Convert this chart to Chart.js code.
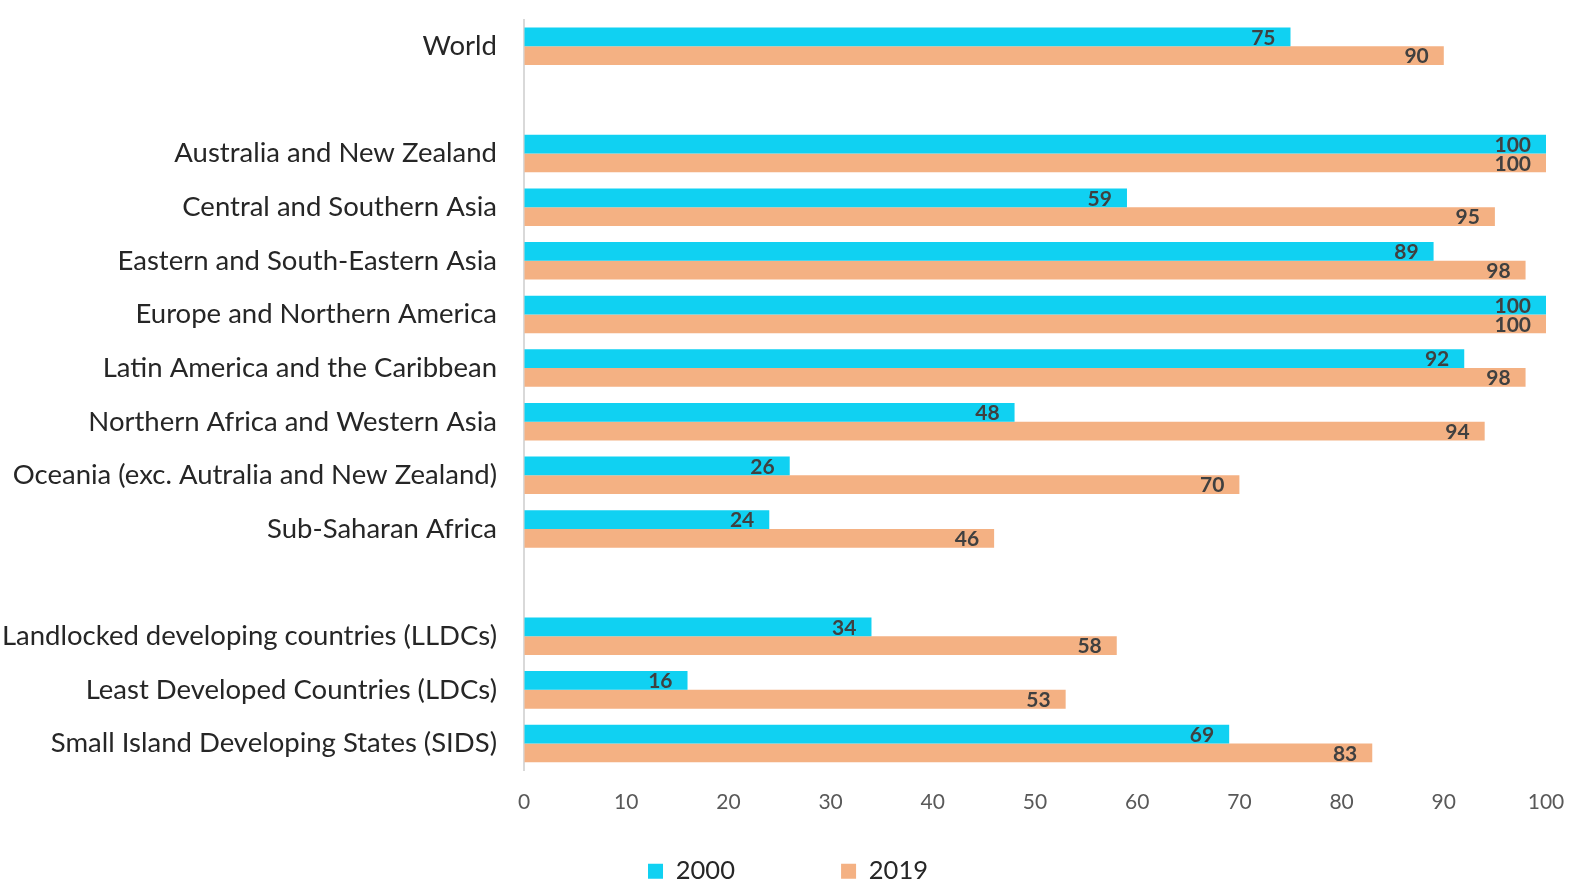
<!DOCTYPE html>
<html>
<head>
<meta charset="utf-8">
<script src="https://cdn.jsdelivr.net/npm/chart.js@4"></script>
<style>
  body { margin: 0; background: #fff; }
  #wrap { width: 1576px; height: 886px; position: relative; }
</style>
</head>
<body>
<div id="wrap"><canvas id="barChart"></canvas></div>
<script>
// Regions (blank strings are the spacer rows between groups)
const regions = [
    'World',
    '',
    'Australia and New Zealand',
    'Central and Southern Asia',
    'Eastern and South-Eastern Asia',
    'Europe and Northern America',
    'Latin America and the Caribbean',
    'Northern Africa and Western Asia',
    'Oceania (exc. Autralia and New Zealand)',
    'Sub-Saharan Africa',
    '',
    'Landlocked developing countries (LLDCs)',
    'Least Developed Countries (LDCs)',
    'Small Island Developing States (SIDS)'
];

const values2000 = [75, null, 100, 59, 89, 100, 92, 48, 26, 24, null, 34, 16, 69];
const values2019 = [90, null, 100, 95, 98, 100, 98, 94, 70, 46, null, 58, 53, 83];

const xTicks = [0, 10, 20, 30, 40, 50, 60, 70, 80, 90, 100];

const fontFamily = 'Lato, "Open Sans", sans-serif';

// draws the value inside the end of each bar
const insideLabels = {
    id: 'insideLabels',
    afterDatasetsDraw(chart) {
        const ctx = chart.ctx;
        ctx.save();
        ctx.font = 'bold 21px ' + fontFamily;
        ctx.fillStyle = '#404040';
        ctx.textAlign = 'right';
        ctx.textBaseline = 'middle';
        chart.data.datasets.forEach((ds, i) => {
            chart.getDatasetMeta(i).data.forEach((bar, j) => {
                const v = ds.data[j];
                if (v === null) return;
                ctx.fillText(String(v), bar.x - 15, bar.y + 1);
            });
        });
        ctx.restore();
    }
};

const barChartCtx = document.getElementById('barChart').getContext('2d');

new Chart(barChartCtx, {
    type: 'bar',
    data: {
        labels: regions,
        datasets: [{
            label: '2000',
            backgroundColor: '#10D1F2',
            data: values2000,
        }, {
            label: '2019',
            backgroundColor: '#F4B183',
            data: values2019,
        }]
    },
    options: {
        indexAxis: 'y',
        responsive: true,
        maintainAspectRatio: false,
        animation: false,
        datasets: {
            bar: { barPercentage: 1, categoryPercentage: 0.7 }
        },
        layout: {
            padding: { top: 0, right: 0, left: 0, bottom: -8 }
        },
        scales: {
            x: {
                min: 0,
                max: 100,
                afterBuildTicks(axis) {
                    axis.ticks = xTicks.map(v => ({ value: v }));
                },
                afterFit(scale) {
                    // room between tick labels and legend, and for the last label
                    scale.height = scale.height + 37;
                    scale.paddingRight = 30;
                },
                grid: {
                    display: true,
                    drawOnChartArea: false,
                    drawTicks: true,
                    tickLength: 16,
                    tickColor: 'transparent'
                },
                border: { display: false },
                ticks: {
                    padding: 3,
                    color: '#595959',
                    font: { family: fontFamily, size: 21 }
                }
            },
            y: {
                afterFit(scale) {
                    scale.width = 524;
                },
                grid: {
                    display: true,
                    drawOnChartArea: false,
                    drawTicks: true,
                    tickLength: 24,
                    tickColor: 'transparent'
                },
                border: { display: true, color: '#d9d9d9', width: 2 },
                ticks: {
                    padding: 3,
                    autoSkip: false,
                    color: '#262626',
                    font: { family: fontFamily, size: 27.5 }
                }
            }
        },
        plugins: {
            tooltip: { enabled: false },
            legend: {
                position: 'bottom',
                labels: {
                    boxWidth: 15,
                    boxHeight: 15,
                    padding: 4,
                    color: '#262626',
                    font: { family: fontFamily, size: 25.5 },
                    generateLabels(chart) {
                        const items = Chart.defaults.plugins.legend.labels.generateLabels(chart);
                        // widen the gap between the two legend entries
                        items[0].text = items[0].text + '\u2003\u2003\u2003\u2003\u2003 ';
                        items.forEach(it => { it.lineWidth = 0; });
                        return items;
                    }
                }
            }
        }
    },
    plugins: [insideLabels]
});
</script>
</body>
</html>
